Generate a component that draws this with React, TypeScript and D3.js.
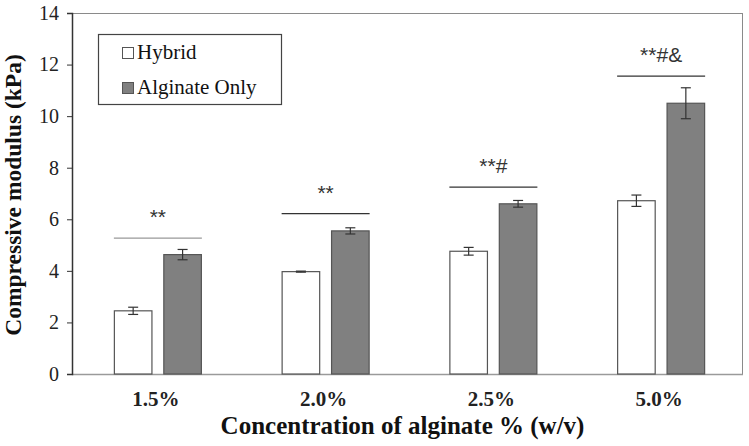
import React, { useEffect, useRef } from 'react';
import * as d3 from 'd3';

// concentrations on the x axis
const categories = ['1.5%', '2.0%', '2.5%', '5.0%'];
const seriesNames = ['Hybrid', 'Alginate Only'];
const hybridValues = [2.45, 3.97, 4.76, 6.72];
const hybridErrors = [0.14, 0.02, 0.15, 0.22];
const alginateValues = [4.63, 5.55, 6.6, 10.5];
const alginateErrors = [0.2, 0.12, 0.13, 0.6];
// significance bracket level and label per group
const sigLevels = [5.27, 6.22, 7.25, 11.55];
const sigLabels = ['**', '**', '**#', '**#&'];
const yTicks = [0, 2, 4, 6, 8, 10, 12, 14];

const serif = '"Liberation Serif", "Times New Roman", serif';

const App = () => {
  const ref = useRef<SVGSVGElement>(null);

  useEffect(() => {
    if (!ref.current) return;
    const svg = d3.select(ref.current);
    svg.selectAll('*').remove();

    const margin = { top: 13, right: 6, bottom: 72, left: 72 },
          width = 749 - margin.left - margin.right,
          height = 446 - margin.top - margin.bottom;

    const g = svg.append('g').attr('transform', `translate(${margin.left},${margin.top})`);

    const x = d3.scaleBand().domain(categories).range([0, width]).paddingInner(0).paddingOuter(0);
    const xSub = d3.scaleBand().domain(seriesNames)
      .range([x.bandwidth() / 2 - 42, x.bandwidth() / 2 + 46])
      .paddingInner(0.22).paddingOuter(0);
    const y = d3.scaleLinear().domain([0, 14]).range([height, 0]);

    // frame top and right
    g.append('line').attr('x1', 0).attr('x2', width).attr('y1', 0.5).attr('y2', 0.5).attr('stroke', '#8a8a8a');
    g.append('line').attr('x1', width - 0.5).attr('x2', width - 0.5).attr('y1', 0).attr('y2', height).attr('stroke', '#8a8a8a');

    // bottom axis line
    g.append('line').attr('x1', 0).attr('x2', width).attr('y1', height + 0.5).attr('y2', height + 0.5).attr('stroke', '#9a9a9a').attr('stroke-width', 1.5);

    // y axis
    const yAxis = g.append('g').call(d3.axisLeft(y).tickValues(yTicks).tickSize(5).tickPadding(8));
    yAxis.select('.domain').attr('stroke', '#333').attr('stroke-width', 1.5);
    yAxis.selectAll('.tick line').attr('stroke', '#333');
    yAxis.selectAll('.tick text')
      .attr('fill', '#222')
      .style('font-family', serif)
      .style('font-size', '20px');

    const series = [
      { name: seriesNames[0], values: hybridValues, errors: hybridErrors, fill: '#ffffff' },
      { name: seriesNames[1], values: alginateValues, errors: alginateErrors, fill: '#808080' },
    ];

    series.forEach(s => {
      categories.forEach((c, i) => {
        const bx = (x(c) as number) + (xSub(s.name) as number);
        const bw = xSub.bandwidth();
        g.append('rect')
          .attr('x', bx + 0.5).attr('y', y(s.values[i]))
          .attr('width', bw - 1).attr('height', height - y(s.values[i]))
          .attr('fill', s.fill).attr('stroke', '#555').attr('stroke-width', 1.2);
        const cx = bx + bw / 2;
        const lo = y(s.values[i] - s.errors[i]);
        const hi = y(s.values[i] + s.errors[i]);
        g.append('line').attr('x1', cx).attr('x2', cx).attr('y1', lo).attr('y2', hi).attr('stroke', '#333').attr('stroke-width', 1.2);
        [lo, hi].forEach(yy => {
          g.append('line').attr('x1', cx - 5).attr('x2', cx + 5).attr('y1', yy).attr('y2', yy).attr('stroke', '#333').attr('stroke-width', 1.2);
        });
      });
    });

    // significance brackets
    categories.forEach((c, i) => {
      const x0 = (x(c) as number) + (xSub(seriesNames[0]) as number);
      const x1 = (x(c) as number) + (xSub(seriesNames[1]) as number) + xSub.bandwidth();
      const ly = y(sigLevels[i]);
      g.append('line').attr('x1', x0).attr('x2', x1).attr('y1', ly).attr('y2', ly)
        .attr('stroke', i === 0 ? '#999' : '#333').attr('stroke-width', 1.3);
      g.append('text')
        .attr('x', (x0 + x1) / 2).attr('y', ly - 14)
        .attr('text-anchor', 'middle')
        .attr('fill', '#333')
        .style('font-family', '"Liberation Sans", Arial, sans-serif')
        .style('font-size', '21px')
        .text(sigLabels[i]);
    });

    // x tick labels
    categories.forEach(c => {
      g.append('text')
        .attr('x', (x(c) as number) + x.bandwidth() / 2)
        .attr('y', height + 32)
        .attr('text-anchor', 'middle')
        .attr('fill', '#222')
        .style('font-family', serif)
        .style('font-weight', 'bold')
        .style('font-size', '21px')
        .text(c);
    });

    // axis titles
    g.append('text')
      .attr('x', width / 2 - 5).attr('y', height + 60)
      .attr('text-anchor', 'middle')
      .attr('fill', '#111')
      .style('font-family', serif)
      .style('font-weight', 'bold')
      .style('font-size', '25px')
      .text('Concentration of alginate % (w/v)');

    g.append('text')
      .attr('transform', `translate(${-51},${182}) rotate(-90)`)
      .attr('text-anchor', 'middle')
      .attr('fill', '#111')
      .style('font-family', serif)
      .style('font-weight', 'bold')
      .style('font-size', '23.5px')
      .text('Compressive modulus (kPa)');

    // legend
    const legend = g.append('g').attr('transform', 'translate(26,21)');
    legend.append('rect').attr('x', 0.5).attr('y', 0.5).attr('width', 183).attr('height', 70)
      .attr('fill', '#fff').attr('stroke', '#444').attr('stroke-width', 1.2);
    series.forEach((s, i) => {
      const ly = 19 + i * 35;
      legend.append('rect').attr('x', 24.5).attr('y', ly - 5.5).attr('width', 11).attr('height', 11)
        .attr('fill', s.fill).attr('stroke', '#555');
      legend.append('text').attr('x', 39).attr('y', ly + 6)
        .attr('fill', '#111')
        .style('font-family', serif)
        .style('font-size', '21px')
        .text(s.name);
    });
  }, []);

  return <svg ref={ref} width={749} height={446} style={{ position: 'absolute', left: 0, top: 0, background: '#fff' }} />;
};

export default App;
